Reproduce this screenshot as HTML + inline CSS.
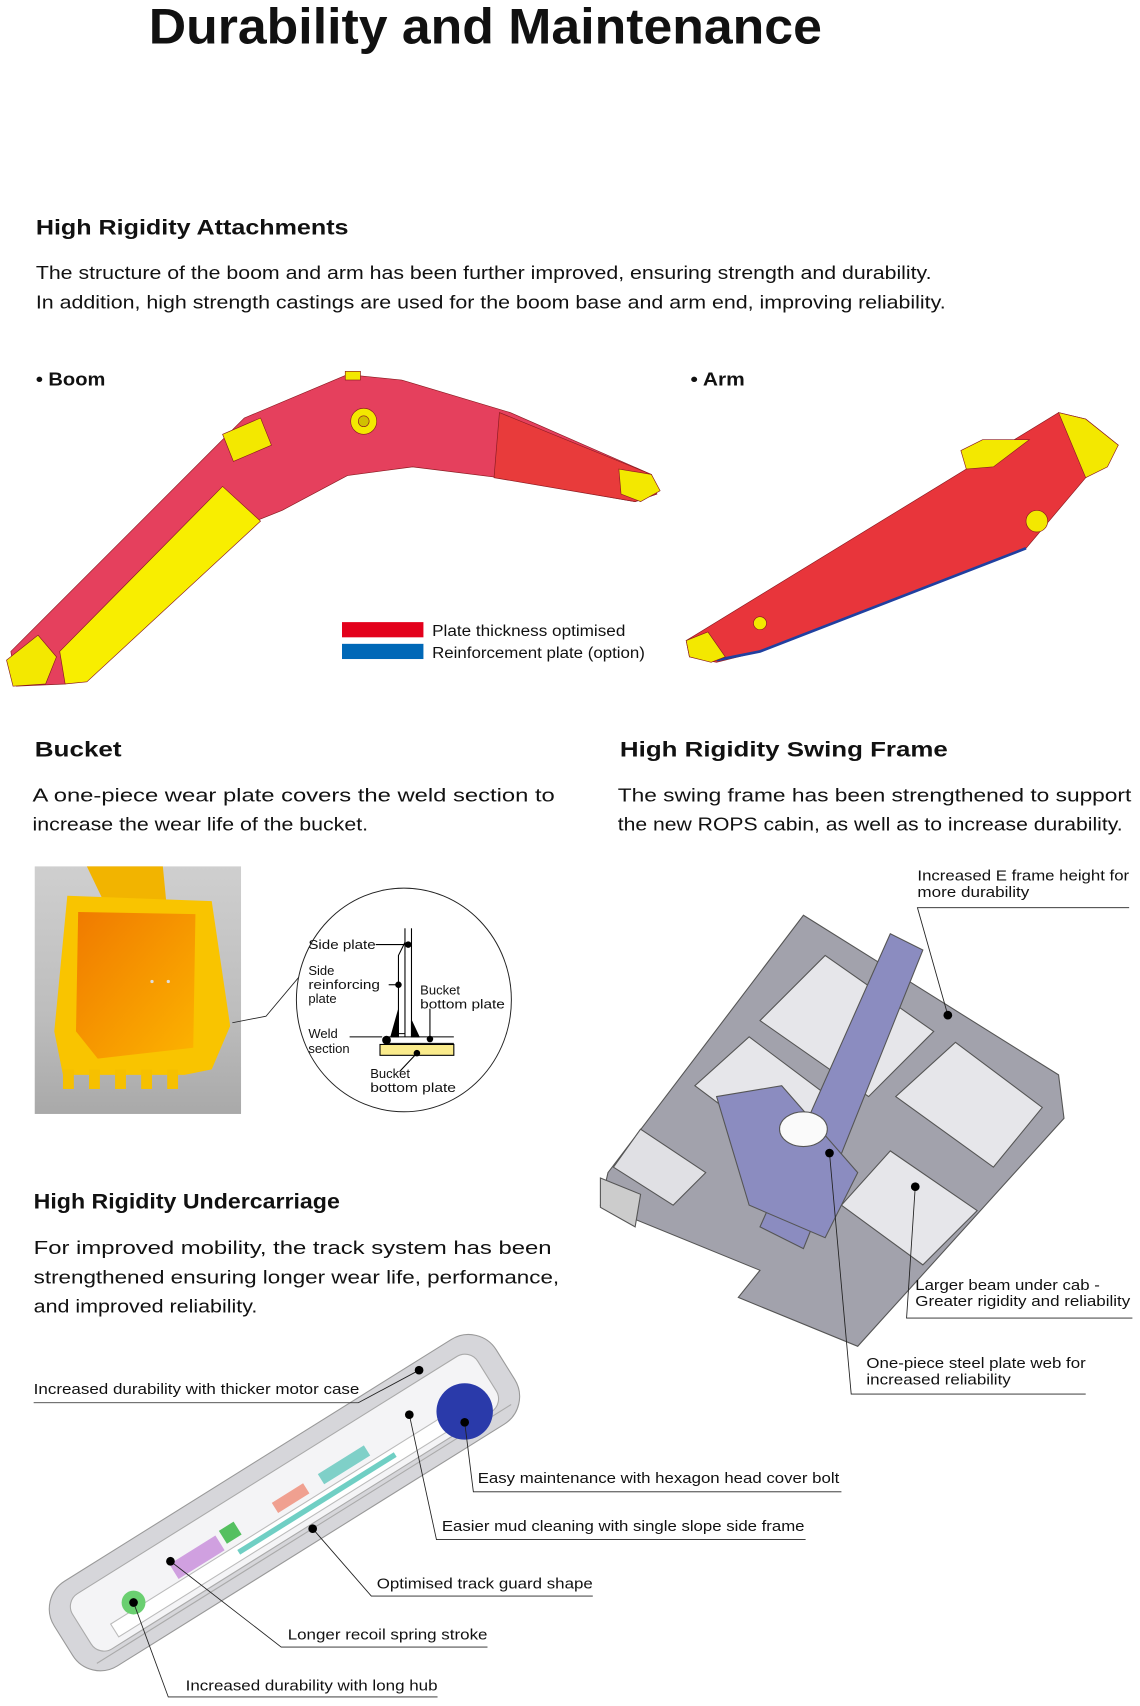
<!DOCTYPE html>
<html><head><meta charset="utf-8"><style>
html,body{margin:0;padding:0;background:#fff;}
svg{display:block;}
text{font-family:"Liberation Sans",Arial,sans-serif;fill:#111;}
.b{font-weight:bold;}
</style></head><body>
<svg width="1140" height="1706" viewBox="0 0 1050 1571.3" xmlns="http://www.w3.org/2000/svg">
<defs>
<linearGradient id="bg" x1="0" y1="0" x2="0" y2="1"><stop offset="0" stop-color="#cfcfcf"/><stop offset="0.6" stop-color="#bdbdbd"/><stop offset="1" stop-color="#a9a9a9"/></linearGradient>
<linearGradient id="or" x1="0" y1="0" x2="1" y2="1"><stop offset="0" stop-color="#f07a00"/><stop offset="1" stop-color="#fcb300"/></linearGradient>
</defs>
<text x="137" y="40" class="b" font-size="46" textLength="620" lengthAdjust="spacingAndGlyphs">Durability and Maintenance</text>
<text x="33" y="216" class="b" font-size="20" textLength="288" lengthAdjust="spacingAndGlyphs">High Rigidity Attachments</text>
<text x="33" y="257" font-size="17" textLength="825" lengthAdjust="spacingAndGlyphs">The structure of the boom and arm has been further improved, ensuring strength and durability.</text>
<text x="33" y="284" font-size="17" textLength="838" lengthAdjust="spacingAndGlyphs">In addition, high strength castings are used for the boom base and arm end, improving reliability.</text>
<text x="33" y="355" class="b" font-size="17" textLength="64" lengthAdjust="spacingAndGlyphs">• Boom</text>
<text x="636" y="355" class="b" font-size="17" textLength="50" lengthAdjust="spacingAndGlyphs">• Arm</text>

<g stroke="#8a1a20" stroke-width="0.6">
<polygon points="10,600 200,410 225,385 320,345 370,350 470,380 600,437 605,455 585,462 460,440 380,430 320,438 260,470 235,480 60,630 15,632" fill="#e5405d"/>
<polygon points="460,380 600,437 605,455 585,462 455,440" fill="#e83b3b"/>
<polygon points="55,600 205,448 240,480 80,628 60,630" fill="#f8ee00"/>
<polygon points="6,608 35,585 52,605 42,630 12,632" fill="#f3e800"/>
<polygon points="205,400 240,385 250,410 215,425" fill="#f3e800"/>
<polygon points="570,432 600,437 608,452 590,462 572,455" fill="#f3e800"/>
<rect x="318" y="342" width="14" height="8" fill="#f3e800"/>
<circle cx="335" cy="388" r="12" fill="#f3e800"/>
<circle cx="335" cy="388" r="5" fill="#d0c000"/>
</g>
<rect x="315" y="573" width="75" height="14" fill="#e3001b"/>
<rect x="315" y="593" width="75" height="14" fill="#0068b7"/>
<text x="398" y="586" font-size="14.5" textLength="178" lengthAdjust="spacingAndGlyphs">Plate thickness optimised</text>
<text x="398" y="606" font-size="14.5" textLength="196" lengthAdjust="spacingAndGlyphs">Reinforcement plate (option)</text>

<g stroke="#8a1a20" stroke-width="0.6">
<polygon points="632,590 975,380 1000,386 1030,410 1000,440 945,505 700,600 660,610 635,605" fill="#e8353b"/>
<polyline points="660,608 700,600 945,505" fill="none" stroke="#2040a0" stroke-width="2.5"/>
<polygon points="975,380 1000,386 1030,410 1020,430 1000,440" fill="#f3e800"/>
<polygon points="632,590 652,582 668,605 655,610 635,605" fill="#f3e800"/>
<polygon points="885,415 905,405 948,405 915,430 890,432" fill="#f3e800"/>
<circle cx="955" cy="480" r="10" fill="#f3e800"/>
<circle cx="700" cy="574" r="6" fill="#f3e800"/>
</g>

<text x="32" y="697" class="b" font-size="20" textLength="80" lengthAdjust="spacingAndGlyphs">Bucket</text>
<text x="571" y="697" class="b" font-size="20" textLength="302" lengthAdjust="spacingAndGlyphs">High Rigidity Swing Frame</text>
<text x="30" y="738" font-size="17" textLength="481" lengthAdjust="spacingAndGlyphs">A one-piece wear plate covers the weld section to</text>
<text x="30" y="765" font-size="17" textLength="309" lengthAdjust="spacingAndGlyphs">increase the wear life of the bucket.</text>
<text x="569" y="738" font-size="17" textLength="473" lengthAdjust="spacingAndGlyphs">The swing frame has been strengthened to support</text>
<text x="569" y="765" font-size="17" textLength="465" lengthAdjust="spacingAndGlyphs">the new ROPS cabin, as well as to increase durability.</text>

<rect x="32" y="798" width="190" height="228" fill="url(#bg)"/>
<polygon points="80,798 150,798 155,850 105,850" fill="#f2b400"/>
<polygon points="62,825 195,830 212,945 195,985 170,990 58,990 50,950" fill="#f9c400"/>
<polygon points="72,840 180,842 178,965 90,975 70,950" fill="url(#or)"/>
<g fill="#f6c000"><rect x="58" y="985" width="10" height="18"/><rect x="82" y="985" width="10" height="18"/><rect x="106" y="985" width="10" height="18"/><rect x="130" y="985" width="10" height="18"/><rect x="154" y="985" width="10" height="18"/></g>
<circle cx="140" cy="904" r="1.5" fill="#ddd"/><circle cx="155" cy="904" r="1.5" fill="#ddd"/>
<polyline points="282,892 245,936 214,942" fill="none" stroke="#222" stroke-width="0.8"/>
<ellipse cx="372" cy="921" rx="99" ry="103" fill="#fff" stroke="#222" stroke-width="0.9"/>
<g stroke="#000" stroke-width="1" fill="none">
<line x1="373" y1="855" x2="373" y2="955"/><line x1="379" y1="855" x2="379" y2="955"/>
<polygon points="367,880 373,868 373,952 367,952" fill="#fff"/>
<polygon points="360,955 367,930 367,955" fill="#000"/>
<polygon points="379,940 386,955 379,955" fill="#000"/>
<line x1="355" y1="955" x2="418" y2="955"/><line x1="355" y1="961" x2="418" y2="961"/>
<line x1="346" y1="870" x2="376" y2="870"/><line x1="358" y1="907" x2="367" y2="907"/>
<line x1="322" y1="955" x2="352" y2="955"/><line x1="396" y1="929" x2="396" y2="957"/>
<line x1="368" y1="987" x2="384" y2="970"/>
</g>
<rect x="350" y="962" width="68" height="10" fill="#faeb8c" stroke="#000" stroke-width="1"/>
<g fill="#000"><circle cx="376" cy="870" r="3"/><circle cx="367" cy="907" r="3"/><circle cx="356" cy="958" r="4"/><circle cx="396" cy="957" r="3"/><circle cx="384" cy="970" r="3"/></g>
<g font-size="12">
<text x="284" y="874" textLength="62" lengthAdjust="spacingAndGlyphs">Side plate</text>
<text x="284" y="898">Side</text>
<text x="284" y="911" textLength="66" lengthAdjust="spacingAndGlyphs">reinforcing</text>
<text x="284" y="924">plate</text>
<text x="387" y="916">Bucket</text>
<text x="387" y="929" textLength="78" lengthAdjust="spacingAndGlyphs">bottom plate</text>
<text x="284" y="956">Weld</text>
<text x="284" y="970">section</text>
<text x="341" y="993">Bucket</text>
<text x="341" y="1006" textLength="79" lengthAdjust="spacingAndGlyphs">bottom plate</text>
</g>

<g stroke="#555" stroke-width="1">
<polygon points="740,843 975,990 980,1030 790,1240 680,1195 700,1170 553,1110 560,1080" fill="#a2a2ac"/>
<polygon points="760,880 860,950 800,1010 700,940" fill="#e6e6ea"/>
<polygon points="880,960 960,1020 915,1075 825,1010" fill="#e6e6ea"/>
<polygon points="690,955 770,1015 720,1060 640,1000" fill="#e6e6ea"/>
<polygon points="820,1060 900,1115 850,1165 775,1110" fill="#e6e6ea"/>
<polygon points="590,1040 650,1080 620,1110 565,1075" fill="#e0e0e4"/>
<polygon points="820,860 850,875 740,1150 700,1130" fill="#8b8cc0"/>
<polygon points="660,1010 720,1000 790,1080 760,1140 690,1110" fill="#8b8cc0"/>
<ellipse cx="740" cy="1040" rx="22" ry="16" fill="#fafafa"/>
<polygon points="553,1085 590,1100 585,1130 553,1112" fill="#ccc"/>
</g>
<g font-size="14">
<text x="845" y="811" textLength="195" lengthAdjust="spacingAndGlyphs">Increased E frame height for</text>
<text x="845" y="826" textLength="103" lengthAdjust="spacingAndGlyphs">more durability</text>
<text x="843" y="1188" textLength="170" lengthAdjust="spacingAndGlyphs">Larger beam under cab -</text>
<text x="843" y="1203" textLength="198" lengthAdjust="spacingAndGlyphs">Greater rigidity and reliability</text>
<text x="798" y="1260" textLength="202" lengthAdjust="spacingAndGlyphs">One-piece steel plate web for</text>
<text x="798" y="1275" textLength="133" lengthAdjust="spacingAndGlyphs">increased reliability</text>
</g>
<g stroke="#222" stroke-width="0.8" fill="none">
<polyline points="873,935 845,836 1040,836"/>
<polyline points="843,1093 835,1214 1043,1214"/>
<polyline points="764,1062 784,1284 1000,1284"/>
</g>
<g fill="#000"><circle cx="873" cy="935" r="4"/><circle cx="843" cy="1093" r="4"/><circle cx="764" cy="1062" r="4"/></g>

<text x="31" y="1113" class="b" font-size="20" textLength="282" lengthAdjust="spacingAndGlyphs">High Rigidity Undercarriage</text>
<text x="31" y="1155" font-size="17" textLength="477" lengthAdjust="spacingAndGlyphs">For improved mobility, the track system has been</text>
<text x="31" y="1182" font-size="17" textLength="484" lengthAdjust="spacingAndGlyphs">strengthened ensuring longer wear life, performance,</text>
<text x="31" y="1209" font-size="17" textLength="206" lengthAdjust="spacingAndGlyphs">and improved reliability.</text>

<g transform="translate(262,1384) rotate(-32)">
<rect x="-240" y="-46" width="480" height="92" rx="30" fill="#d6d6da" stroke="#999"/>
<rect x="-220" y="-30" width="440" height="60" rx="14" fill="#f4f4f6" stroke="#aaa"/>
<rect x="-195" y="10" width="390" height="14" fill="#fff" stroke="#bbb"/>
<g stroke="#aaa" stroke-width="1"><line x1="-225" y1="34" x2="225" y2="34"/></g>
<rect x="-120" y="-8" width="50" height="16" fill="#d0a0e0"/>
<rect x="-65" y="-10" width="16" height="14" fill="#55c060"/>
<rect x="-10" y="-6" width="34" height="11" fill="#f0a090"/>
<rect x="40" y="-6" width="50" height="11" fill="#7fd0c8"/>
<rect x="-60" y="14" width="170" height="5" fill="#70cfc4"/>
</g>
<circle cx="123" cy="1476" r="11" fill="#6acf70"/>
<circle cx="428" cy="1300" r="26" fill="#2a3aaa"/>
<g font-size="14">
<text x="31" y="1284" textLength="300" lengthAdjust="spacingAndGlyphs">Increased durability with thicker motor case</text>
<text x="440" y="1366" textLength="333" lengthAdjust="spacingAndGlyphs">Easy maintenance with hexagon head cover bolt</text>
<text x="407" y="1410" textLength="334" lengthAdjust="spacingAndGlyphs">Easier mud cleaning with single slope side frame</text>
<text x="347" y="1463" textLength="199" lengthAdjust="spacingAndGlyphs">Optimised track guard shape</text>
<text x="265" y="1510" textLength="184" lengthAdjust="spacingAndGlyphs">Longer recoil spring stroke</text>
<text x="171" y="1557" textLength="232" lengthAdjust="spacingAndGlyphs">Increased durability with long hub</text>
</g>
<g stroke="#222" stroke-width="0.8" fill="none">
<polyline points="386,1262 330,1292 31,1292"/>
<polyline points="428,1310 436,1374 775,1374"/>
<polyline points="377,1303 402,1418 742,1418"/>
<polyline points="288,1408 342,1470 546,1470"/>
<polyline points="157,1438 259,1517 449,1517"/>
<polyline points="123,1476 155,1563 403,1563"/>
</g>
<g fill="#000"><circle cx="386" cy="1262" r="4"/><circle cx="428" cy="1310" r="4"/><circle cx="377" cy="1303" r="4"/><circle cx="288" cy="1408" r="4"/><circle cx="157" cy="1438" r="4"/><circle cx="123" cy="1476" r="4"/></g>
</svg>
</body></html>
